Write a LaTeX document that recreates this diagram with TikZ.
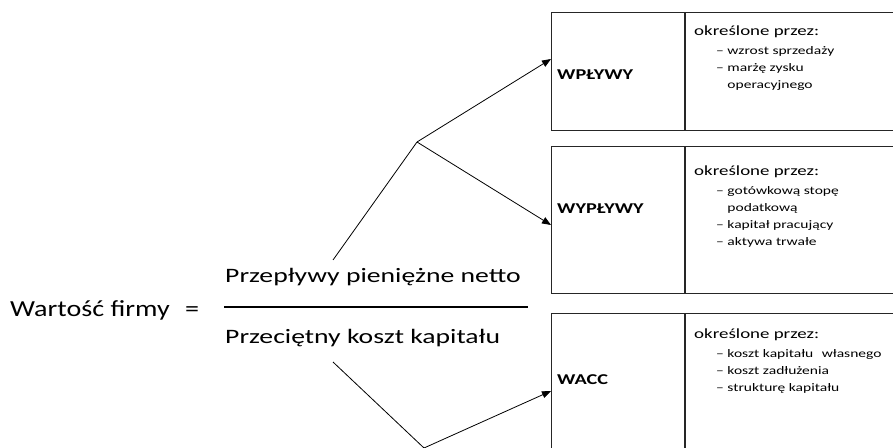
\documentclass[tikz,border=0pt]{standalone}
\usepackage{fontspec}
\setmainfont{Carlito}
\newfontfamily\wide[FakeStretch=1.35]{Carlito}
\newfontfamily\wfont[FakeStretch=1.22]{Carlito}
\usetikzlibrary{arrows.meta}
\tikzset{
  cell/.style={draw=black!85, line width=1.1pt, anchor=north west, inner sep=0pt},
  big/.style={anchor=base west, inner sep=0pt, font=\wfont\fontsize{23}{27}\selectfont},
  frac/.style={anchor=base west, inner sep=0pt, font=\wide\fontsize{20.5}{24}\selectfont},
  lbl/.style={anchor=base west, inner sep=0pt, font=\wide\fontsize{15}{18}\selectfont\bfseries},
  head/.style={anchor=base west, inner sep=0pt, font=\wide\fontsize{14}{17}\selectfont},
  item/.style={anchor=base west, inner sep=0pt, font=\wide\fontsize{11.5}{13}\selectfont},
  link/.style={line width=0.8pt},
  arr/.style={link, -{Triangle[length=9pt,width=7pt]}}
}
\begin{document}
\begin{tikzpicture}[x=1pt,y=1pt]
\clip (0,0) rectangle (893,447);
% formula
\node[big] (wf) at (10,130) {Wartość firmy};
\node[big] (eq) at (185,130) {=};
\node[frac] (num) at (225,164) {Przepływy pieniężne netto};
\node[frac] (den) at (225,103) {Przeciętny koszt kapitału};
\coordinate (barl) at (224,140);
\coordinate (barr) at (528,140);
\draw[line width=1.6pt] (barl) -- (barr);
% boxes
\node[cell, minimum width=133, minimum height=118] (in) at (551,435) {};
\node[cell, minimum width=230, minimum height=118] (ind) at (in.north east) {};
\node[cell, minimum width=133, minimum height=147] (out) at (551,301) {};
\node[cell, minimum width=230, minimum height=147] (outd) at (out.north east) {};
\node[cell, minimum width=133, minimum height=160] (wacc) at (551,134) {};
\node[cell, minimum width=230, minimum height=160] (waccd) at (wacc.north east) {};
\node[lbl] (inl) at (557,367) {WPŁYWY};
\node[lbl] (outl) at (557,233) {WYPŁYWY};
\node[lbl] (waccl) at (557,63) {WACC};
% descriptions
\foreach \b/\y in {ind/411, outd/271, waccd/108}
  \node[head] (\b-h) at (694,\y) {określone przez:};
\foreach \t [count=\i] in {– wzrost sprzedaży, – marżę zysku, \phantom{– }operacyjnego}
  \node[item] (ind-\i) at (716,411-18.5-17*\i+17) {\t};
\foreach \t [count=\i] in {– gotówkową stopę, \phantom{– }podatkową, – kapitał pracujący, – aktywa trwałe}
  \node[item] (outd-\i) at (716,271-18.5-17*\i+17) {\t};
\foreach \t [count=\i] in {– koszt kapitału\hspace{5pt} własnego, – koszt zadłużenia, – strukturę kapitału}
  \node[item] (waccd-\i) at (716,108-18.5-17*\i+17) {\t};
% connectors
\coordinate (up0) at (333,187);
\coordinate (up1) at (417,305);
\coordinate (lo0) at (333,85);
\coordinate (lo1) at (424,-1);
\draw[link] (up0) -- (up1);
\draw[arr] (up1) -- ([yshift=-47pt]in.north west);
\draw[arr] (up1) -- ([yshift=-79pt]out.north west);
\draw[link] (lo0) -- (lo1);
\draw[arr] (lo1) -- ([yshift=-78pt]wacc.north west);
\end{tikzpicture}
\end{document}
